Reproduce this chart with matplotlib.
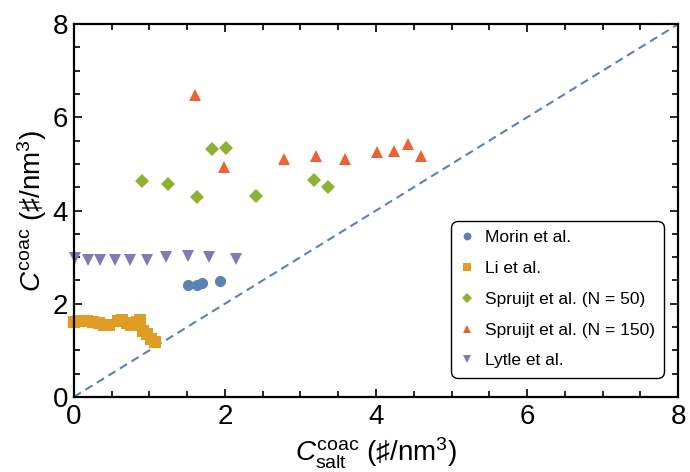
import matplotlib
matplotlib.use("Agg")
import matplotlib.pyplot as plt
from matplotlib.ticker import MultipleLocator

plt.rcParams['font.family'] = ['Liberation Sans', 'DejaVu Sans']
plt.rcParams['mathtext.fontset'] = 'custom'
plt.rcParams['mathtext.rm'] = 'Liberation Sans'
plt.rcParams['mathtext.it'] = 'Liberation Sans:italic'

# data
morin_x = [1.51, 1.63, 1.70, 1.94]
morin_y = [2.40, 2.41, 2.44, 2.49]

li_x = [0.00, 0.06, 0.12, 0.18, 0.25, 0.33, 0.40, 0.47, 0.58, 0.64, 0.70, 0.76, 0.83, 0.88, 0.92, 0.97, 1.02, 1.08]
li_y = [1.60, 1.62, 1.63, 1.62, 1.61, 1.58, 1.55, 1.55, 1.64, 1.66, 1.58, 1.55, 1.60, 1.65, 1.42, 1.34, 1.24, 1.18]

spruijt50_x = [0.90, 1.25, 1.63, 1.83, 2.02, 2.41, 3.18, 3.36]
spruijt50_y = [4.64, 4.57, 4.29, 5.32, 5.35, 4.31, 4.66, 4.51]

spruijt150_x = [1.60, 1.99, 2.78, 3.20, 3.59, 4.01, 4.24, 4.42, 4.60]
spruijt150_y = [6.48, 4.93, 5.11, 5.17, 5.11, 5.26, 5.28, 5.43, 5.17]

lytle_x = [0.01, 0.19, 0.35, 0.55, 0.75, 0.97, 1.22, 1.51, 1.79, 2.15]
lytle_y = [2.98, 2.94, 2.94, 2.94, 2.94, 2.94, 3.00, 3.03, 3.00, 2.96]

diag = [0, 8]

fig = plt.figure(figsize=(6.9, 4.72), dpi=100)
ax = fig.add_axes([0.107, 0.159, 0.876, 0.79])

ax.plot(diag, diag, linestyle=(0, (4, 2.5)), color='#5E81B5', lw=1.5)

ax.plot(morin_x, morin_y, 'o', ms=8, color='#5E81B5', mew=0, clip_on=False, label='Morin et al.')
ax.plot(li_x, li_y, 's', ms=9, color='#E19C24', mew=0, clip_on=False, label='Li et al.')
ax.plot(spruijt50_x, spruijt50_y, 'D', ms=7, color='#8FB032', mew=0, clip_on=False, label='Spruijt et al. (N = 50)')
ax.plot(spruijt150_x, spruijt150_y, '^', ms=9, color='#EB6235', mew=0, clip_on=False, label='Spruijt et al. (N = 150)')
ax.plot(lytle_x, lytle_y, 'v', ms=9, color='#8778B3', mew=0, clip_on=False, label='Lytle et al.')

ax.set_xlim(0, 8)
ax.set_ylim(0, 8)
ax.xaxis.set_major_locator(MultipleLocator(2))
ax.yaxis.set_major_locator(MultipleLocator(2))
ax.xaxis.set_minor_locator(MultipleLocator(0.5))
ax.yaxis.set_minor_locator(MultipleLocator(0.5))
ax.tick_params(which='both', direction='in', top=True, right=True, width=1.2)
ax.tick_params(which='major', length=6, labelsize=20)
ax.tick_params(which='minor', length=4)
ax.tick_params(axis='x', pad=5)
ax.tick_params(axis='y', pad=4)
for s in ax.spines.values():
    s.set_linewidth(1.6)

ax.set_xlabel(r'$C_{\mathrm{salt}}^{\mathrm{coac}}$ (♯/nm$^3$)', fontsize=20, labelpad=4)
ax.set_ylabel(r'$C^{\mathrm{coac}}$ (♯/nm$^3$)', fontsize=20, labelpad=3)

leg = ax.legend(loc='lower right', bbox_to_anchor=(0.977, 0.051), borderaxespad=0,
                fontsize=12.5, markerscale=0.7, handlelength=0.8, handletextpad=0.6,
                labelspacing=0.9, framealpha=1, edgecolor='black', fancybox=True,
                borderpad=0.55)
leg.get_frame().set_linewidth(1.0)
leg.get_frame().set_boxstyle('round', pad=0, rounding_size=0.4)

fig.savefig('out.png', dpi=100)
